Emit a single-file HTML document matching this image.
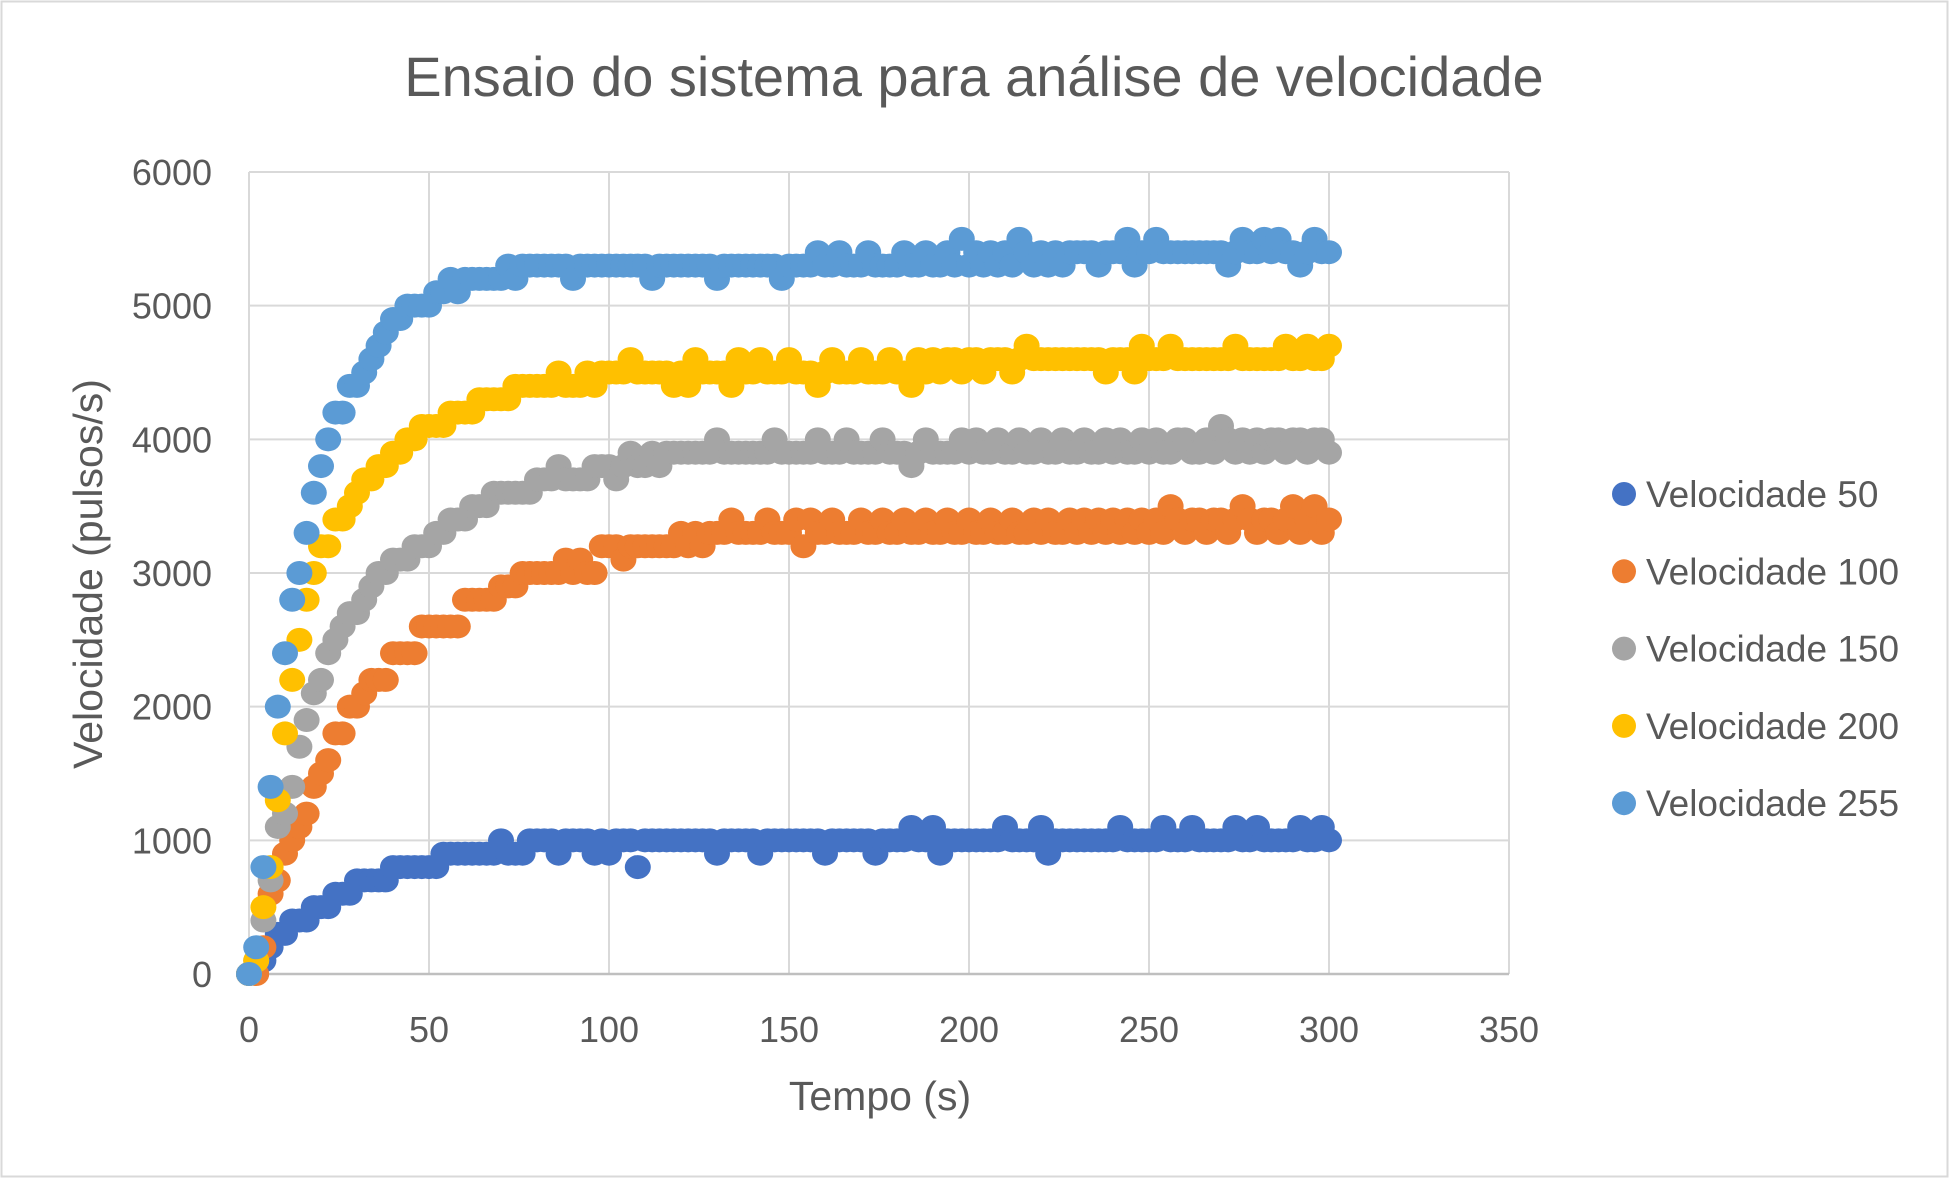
<!DOCTYPE html>
<html><head><meta charset="utf-8"><style>
body{margin:0;background:#fff;}
svg{display:block;font-family:"Liberation Sans",sans-serif;}
</style></head><body>
<svg id="chart" width="1951" height="1181">
<rect x="1.5" y="1.5" width="1946" height="1175" fill="#fff" stroke="#d9d9d9" stroke-width="2"/>
<text x="974" y="96" text-anchor="middle" font-size="56" fill="#595959">Ensaio do sistema para análise de velocidade</text>
<g id="grid"></g>
<g id="ticks"></g>
<g id="marks"></g>
<text x="880" y="1110" text-anchor="middle" font-size="41" fill="#595959">Tempo (s)</text>
<text transform="translate(102,574) rotate(-90)" text-anchor="middle" font-size="41" fill="#595959">Velocidade (pulsos/s)</text>
<g id="legend"></g>
</svg>
<script>
const xTicks=[0,50,100,150,200,250,300,350];
const yTicks=[0,1000,2000,3000,4000,5000,6000];
const seriesNames=["Velocidade 50","Velocidade 100","Velocidade 150","Velocidade 200","Velocidade 255"];
const seriesColors=["#4472C4","#ED7D31","#A5A5A5","#FFC000","#5B9BD5"];
const tStep=2;
const s50=[0,50,100,200,300,300,400,400,400,500,
500,500,600,600,600,700,700,700,700,700,
800,800,800,800,800,800,800,900,900,900,
900,900,900,900,900,1000,900,900,900,1000,
1000,1000,1000,900,1000,1000,1000,1000,900,1000,
900,1000,1000,1000,800,1000,1000,1000,1000,1000,
1000,1000,1000,1000,1000,900,1000,1000,1000,1000,
1000,900,1000,1000,1000,1000,1000,1000,1000,1000,
900,1000,1000,1000,1000,1000,1000,900,1000,1000,
1000,1000,1100,1000,1000,1100,900,1000,1000,1000,
1000,1000,1000,1000,1000,1100,1000,1000,1000,1000,
1100,900,1000,1000,1000,1000,1000,1000,1000,1000,
1000,1100,1000,1000,1000,1000,1000,1100,1000,1000,
1000,1100,1000,1000,1000,1000,1000,1100,1000,1000,
1100,1000,1000,1000,1000,1000,1100,1000,1000,1100,
1000];
const s100=[0,0,200,600,700,900,1000,1100,1200,1400,
1500,1600,1800,1800,2000,2000,2100,2200,2200,2200,
2400,2400,2400,2400,2600,2600,2600,2600,2600,2600,
2800,2800,2800,2800,2800,2900,2900,2900,3000,3000,
3000,3000,3000,3000,3100,3000,3100,3000,3000,3200,
3200,3200,3100,3200,3200,3200,3200,3200,3200,3200,
3300,3200,3300,3200,3300,3300,3300,3400,3300,3300,
3300,3300,3400,3300,3300,3300,3400,3200,3400,3300,
3300,3400,3300,3300,3300,3400,3300,3300,3400,3300,
3300,3400,3300,3300,3400,3300,3300,3400,3300,3300,
3400,3300,3300,3400,3300,3300,3400,3300,3300,3400,
3300,3400,3300,3300,3400,3300,3400,3300,3400,3300,
3400,3300,3400,3300,3400,3300,3400,3300,3500,3400,
3300,3400,3400,3300,3400,3400,3300,3400,3500,3400,
3300,3400,3400,3300,3400,3500,3300,3400,3500,3300,
3400];
const s150=[0,100,400,700,1100,1200,1400,1700,1900,2100,
2200,2400,2500,2600,2700,2700,2800,2900,3000,3000,
3100,3100,3100,3200,3200,3200,3300,3300,3400,3400,
3400,3500,3500,3500,3600,3600,3600,3600,3600,3600,
3700,3700,3700,3800,3700,3700,3700,3700,3800,3800,
3800,3700,3800,3900,3800,3800,3900,3800,3900,3900,
3900,3900,3900,3900,3900,4000,3900,3900,3900,3900,
3900,3900,3900,4000,3900,3900,3900,3900,3900,4000,
3900,3900,3900,4000,3900,3900,3900,3900,4000,3900,
3900,3900,3800,3900,4000,3900,3900,3900,3900,4000,
3900,4000,3900,3900,4000,3900,3900,4000,3900,3900,
4000,3900,3900,4000,3900,3900,4000,3900,3900,4000,
3900,4000,3900,3900,4000,3900,4000,3900,3900,4000,
4000,3900,3900,4000,3900,4100,4000,3900,4000,3900,
4000,3900,4000,4000,3900,4000,4000,3900,4000,4000,
3900];
const s200=[0,100,500,800,1300,1800,2200,2500,2800,3000,
3200,3200,3400,3400,3500,3600,3700,3700,3800,3800,
3900,3900,4000,4000,4100,4100,4100,4100,4200,4200,
4200,4200,4300,4300,4300,4300,4300,4400,4400,4400,
4400,4400,4400,4500,4400,4400,4400,4500,4400,4500,
4500,4500,4500,4600,4500,4500,4500,4500,4500,4400,
4500,4400,4600,4500,4500,4500,4500,4400,4600,4500,
4500,4600,4500,4500,4500,4600,4500,4500,4500,4400,
4500,4600,4500,4500,4500,4600,4500,4500,4500,4600,
4500,4500,4400,4600,4500,4600,4500,4600,4600,4500,
4600,4600,4500,4600,4600,4600,4500,4600,4700,4600,
4600,4600,4600,4600,4600,4600,4600,4600,4600,4500,
4600,4600,4600,4500,4700,4600,4600,4600,4700,4600,
4600,4600,4600,4600,4600,4600,4600,4700,4600,4600,
4600,4600,4600,4600,4700,4600,4600,4700,4600,4600,
4700];
const s255=[0,200,800,1400,2000,2400,2800,3000,3300,3600,
3800,4000,4200,4200,4400,4400,4500,4600,4700,4800,
4900,4900,5000,5000,5000,5000,5100,5100,5200,5100,
5200,5200,5200,5200,5200,5200,5300,5200,5300,5300,
5300,5300,5300,5300,5300,5200,5300,5300,5300,5300,
5300,5300,5300,5300,5300,5300,5200,5300,5300,5300,
5300,5300,5300,5300,5300,5200,5300,5300,5300,5300,
5300,5300,5300,5300,5200,5300,5300,5300,5300,5400,
5300,5300,5400,5300,5300,5300,5400,5300,5300,5300,
5300,5400,5300,5300,5400,5300,5300,5400,5300,5500,
5300,5400,5300,5400,5300,5400,5300,5500,5400,5300,
5400,5300,5400,5300,5400,5400,5400,5400,5300,5400,
5400,5400,5500,5300,5400,5400,5500,5400,5400,5400,
5400,5400,5400,5400,5400,5400,5300,5400,5500,5400,
5400,5500,5400,5500,5400,5400,5300,5400,5500,5400,
5400];
const allSeries=[s50,s100,s150,s200,s255];

const X0=249,X1=1509,Y0=974,Y1=172;
const xs=v=>X0+(v-0)/(350-0)*(X1-X0);
const ys=v=>Y0-(v-0)/(6000-0)*(Y0-Y1);
const NS="http://www.w3.org/2000/svg";
function mk(tag,attrs,parent){const e=document.createElementNS(NS,tag);for(const k in attrs)e.setAttribute(k,attrs[k]);parent.appendChild(e);return e;}
const grid=document.getElementById('grid'),ticks=document.getElementById('ticks'),marks=document.getElementById('marks'),legend=document.getElementById('legend');
xTicks.forEach(v=>{
  const l=mk('line',{x1:xs(v),x2:xs(v),y1:Y1,y2:Y0,stroke:'#d9d9d9','stroke-width':2},grid);
  
  
  const t=mk('text',{x:xs(v),y:1042,'text-anchor':'middle','font-size':36,fill:'#595959'},ticks);
  t.textContent=v;
  
  
});
yTicks.forEach(v=>{
  const l=mk('line',{x1:X0,x2:X1,y1:ys(v),y2:ys(v),stroke:'#d9d9d9','stroke-width':2},grid);
  
  
  const t=mk('text',{x:212,y:ys(v)+13,'text-anchor':'end','font-size':36,fill:'#595959'},ticks);
  t.textContent=v;
  
  
});
const ax=mk('line',{x1:X0,x2:X1,y1:Y0,y2:Y0,stroke:'#bfbfbf','stroke-width':2.5},grid);


allSeries.forEach((s,si)=>{
  const g=mk('g',{fill:seriesColors[si]},marks);
  
  
  s.forEach((v,i)=>{
    const c=mk('ellipse',{cx:xs(i*tStep),cy:ys(v),rx:13,ry:12},g);
    
    
  });
});
seriesNames.forEach((n,i)=>{
  const y=494+i*77.3;
  const c=mk('circle',{cx:1624,cy:y,r:12,fill:seriesColors[i]},legend);
  
  
  const t=mk('text',{x:1646,y:y+13,'font-size':37,fill:'#595959'},legend);
  t.textContent=n;
  
  
});
</script>
</body></html>
